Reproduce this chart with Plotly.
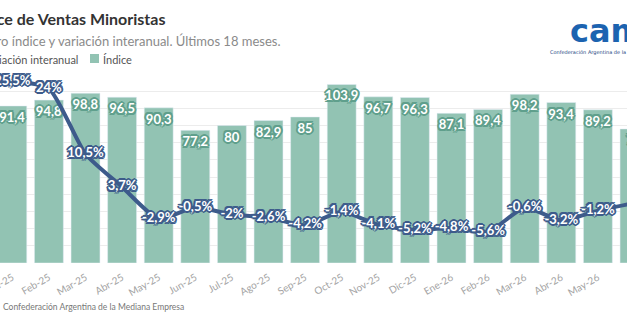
import plotly.graph_objects as go

months = ["Ene-25", "Feb-25", "Mar-25", "Abr-25", "May-25", "Jun-25", "Jul-25", "Ago-25", "Sep-25",
          "Oct-25", "Nov-25", "Dic-25", "Ene-26", "Feb-26", "Mar-26", "Abr-26", "May-26", "Jun-26"]
indice = [91.4, 94.8, 98.8, 96.5, 90.3, 77.2, 80, 82.9, 85, 103.9, 96.7, 96.3, 87.1, 89.4, 98.2, 93.4, 89.2, 78]
variacion = [25.5, 24, 10.5, 3.7, -2.9, -0.5, -2, -2.6, -4.2, -1.4, -4.1, -5.2, -4.8, -5.6, -0.6, -3.2, -1.2, 0.4]

W, H = 627, 331
PT, PB = 74, 263  # plot area top/bottom in px


def fmt(v, suffix=""):
    s = ("%.1f" % v).replace(".", ",")
    if s.endswith(",0"):
        s = s[:-2]
    return s + suffix


def px(x):
    return x / W


def py(y):
    return (PB - y) / (PB - PT)


def outline(c, r=1.5):
    offs = [(-r, -r), (r, -r), (-r, r), (r, r), (0, -2), (0, 2), (-2, 0), (2, 0)]
    return ", ".join(f"{a}px {b}px 0 {c}" for a, b in offs)


BAR = "#92c3b3"
BAR_DARK = "#5f9f8c"
LINE = "#3d5b8b"
FONT = "Lato"

fig = go.Figure()
fig.add_trace(go.Bar(
    x=months, y=indice, name="Índice", marker_color=BAR,
    text=[fmt(v) for v in indice], textposition="inside", insidetextanchor="end",
    constraintext="none", textangle=0,
    textfont=dict(family=FONT, size=13, color="white", weight="bold", shadow=outline(BAR_DARK)),
    showlegend=False,
))
fig.add_trace(go.Scatter(
    x=months, y=variacion, name="Variación interanual", yaxis="y2", mode="lines+text",
    line=dict(color=LINE, width=4, shape="spline", smoothing=0.6),
    text=[fmt(v, "%") for v in variacion], textposition="middle center",
    textfont=dict(family=FONT, size=13, color="white", weight="bold", shadow=outline(LINE)),
    cliponaxis=False, showlegend=False,
))

fig.update_layout(
    width=W, height=H, autosize=False,
    margin=dict(l=0, r=0, t=PT, b=H - PB, pad=0),
    paper_bgcolor="white", plot_bgcolor="white",
    bargap=0.21,
    font=dict(family=FONT),
    xaxis=dict(range=[-0.336, 16.795], tickangle=-30, showgrid=False, ticks="", automargin=False,
               ticklabelstandoff=6,
               tickfont=dict(family=FONT, size=10, color="#a3a3a3"), showline=False, zeroline=False),
    yaxis=dict(range=[0, 110], dtick=10, showgrid=True, gridcolor="#ececec", gridwidth=1, automargin=False,
               showticklabels=False, zeroline=False, ticks=""),
    yaxis2=dict(range=[-12, 27], overlaying="y", side="right", showgrid=False, automargin=False,
                showticklabels=False, zeroline=False, ticks=""),
)

ann = [
    dict(text="<b>Índice de Ventas Minoristas</b>", x=px(167), y=py(18), xanchor="right", yanchor="middle",
         font=dict(family=FONT, size=16, color="#333333")),
    dict(text="Número índice y variación interanual. Últimos 18 meses.", x=px(283), y=py(41),
         xanchor="right", yanchor="middle", font=dict(family=FONT, size=13, color="#8a8a8a")),
    dict(text="Variación interanual", x=px(80), y=py(59), xanchor="right", yanchor="middle",
         font=dict(family=FONT, size=11, color="#555555")),
    dict(text="Índice", x=px(101), y=py(59), xanchor="left", yanchor="middle",
         font=dict(family=FONT, size=11, color="#555555")),
    dict(text="Confederación Argentina de la Mediana Empresa", x=px(1), y=py(307), xanchor="left",
         yanchor="middle", font=dict(family=FONT, size=8.5, color="#777777")),
    dict(text="<b>came</b>", x=px(568), y=py(31), xanchor="left", yanchor="middle",
         font=dict(family="DejaVu Sans", size=32, color="#1c63b0")),
    dict(text="Confederación Argentina de la Mediana Empresa", x=px(548), y=py(53), xanchor="left",
         yanchor="middle", font=dict(family="DejaVu Sans", size=5, color="#1c3f80")),
]
for a in ann:
    a.update(xref="paper", yref="paper", showarrow=False)
fig.update_layout(annotations=ann)

fig.add_shape(type="rect", xref="paper", yref="paper", x0=px(90), x1=px(99), y0=py(63), y1=py(54),
              fillcolor=BAR, line=dict(width=0))

fig.write_html("out.html")
